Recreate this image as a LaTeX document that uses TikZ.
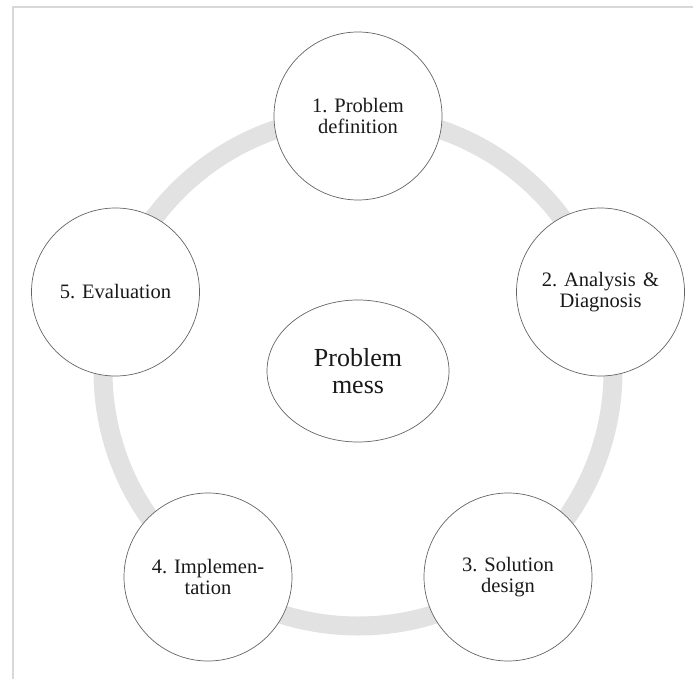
\documentclass[tikz,border=0pt]{standalone}
\usepackage{fontspec}
\setmainfont{Liberation Serif}
\usetikzlibrary{shapes.geometric}

\definecolor{ringgray}{RGB}{226,226,226}
\definecolor{framegray}{RGB}{216,216,216}
\definecolor{edgegray}{RGB}{100,100,100}
\definecolor{inkgray}{RGB}{25,25,25}

\tikzset{
  stage/.style={circle, draw=edgegray, line width=0.7pt, fill=white,
    minimum size=168pt, inner sep=0pt, align=center, text=inkgray,
    font=\fontsize{20.5}{21}\selectfont},
  core/.style={ellipse, draw=edgegray, line width=0.7pt, fill=white,
    minimum width=182pt, minimum height=142pt, inner sep=0pt, align=center,
    text=inkgray, font=\fontsize{26}{27}\selectfont},
  cyclering/.style={draw=ringgray, line width=19pt},
  frameline/.style={draw=framegray, line width=2pt}
}

\begin{document}
\begin{tikzpicture}[x=1pt, y=-1pt]
  \useasboundingbox (0,0) rectangle (693,679);

  % page frame along the top and left edges
  \coordinate (fbl) at (12.8,679);
  \coordinate (ftl) at (12.8,7);
  \coordinate (ftr) at (693,7);
  \path[frameline] (fbl) -- (ftl) -- (ftr);

  % cycle ring through the five stages
  \coordinate (hub) at (358,371);
  \path[cyclering] (hub) circle[radius=255pt];

  % the five stages on a regular pentagon
  \node[stage] (s1) at (358,116) {1. Problem\\definition};
  \node[stage] (s2) at (600.5,292) {2. Analysis\hspace{0.35em}\&\\Diagnosis};
  \node[stage] (s3) at (508,577) {3. Solution\\design};
  \node[stage] (s4) at (208,577) {4. Implemen-\\tation};
  \node[stage] (s5) at (115.5,292) {5. Evaluation};

  % central problem
  \node[core] (mess) at (hub) {Problem\\mess};
\end{tikzpicture}
\end{document}
